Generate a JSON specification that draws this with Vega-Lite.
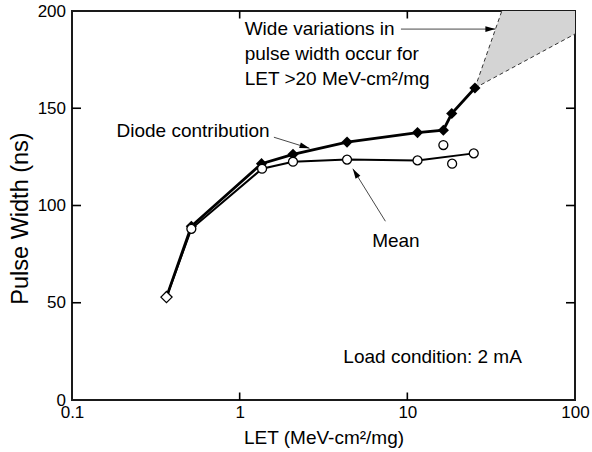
{
  "$schema": "https://vega.github.io/schema/vega-lite/v6.json",
  "width": 503,
  "height": 389,
  "autosize": "none",
  "padding": {"left": 72, "top": 11, "right": 17, "bottom": 52},
  "background": "white",
  "config": {
    "view": {"stroke": "#1a1a1a", "strokeWidth": 2},
    "font": "Liberation Sans",
    "axis": {
      "domain": false,
      "grid": false,
      "ticks": false,
      "tickSize": 0,
      "labelColor": "#000",
      "titleColor": "#000",
      "labelFont": "Liberation Sans",
      "titleFont": "Liberation Sans",
      "labelFontSize": 17,
      "titleFontWeight": "normal",
      "labelFlush": false
    },
    "text": {"font": "Liberation Sans", "fontSize": 19, "color": "#000"}
  },
  "datasets": {
    "region": [
      {"LET": 25.3, "lo": 160.4, "hi": 160.4},
      {"LET": 36.6, "lo": 168.0, "hi": 200},
      {"LET": 100, "lo": 188.2, "hi": 200}
    ],
    "edges": [
      {"edge": "upper", "LET": 25.3, "pw": 160.4},
      {"edge": "upper", "LET": 36.6, "pw": 200},
      {"edge": "lower", "LET": 25.3, "pw": 160.4},
      {"edge": "lower", "LET": 100, "pw": 188.2}
    ],
    "bottomTicks": [{"LET": 1, "pw": 0}, {"LET": 10, "pw": 0}],
    "topTicks": [{"LET": 1, "pw": 200}, {"LET": 10, "pw": 200}],
    "leftTicks": [{"LET": 0.1, "pw": 50}, {"LET": 0.1, "pw": 100}, {"LET": 0.1, "pw": 150}],
    "rightTicks": [{"LET": 100, "pw": 50}, {"LET": 100, "pw": 100}, {"LET": 100, "pw": 150}],
    "diode": [
      {"LET": 0.366, "pw": 52.9},
      {"LET": 0.515, "pw": 89.3},
      {"LET": 1.35, "pw": 121.5},
      {"LET": 2.08, "pw": 126.3},
      {"LET": 4.37, "pw": 132.6},
      {"LET": 11.5, "pw": 137.5},
      {"LET": 16.4, "pw": 138.7},
      {"LET": 18.4, "pw": 147.3},
      {"LET": 25.3, "pw": 160.4}
    ],
    "mean": [
      {"LET": 0.366, "pw": 52.9},
      {"LET": 0.515, "pw": 88.0},
      {"LET": 1.36, "pw": 118.9},
      {"LET": 2.08, "pw": 122.5},
      {"LET": 4.37, "pw": 123.6},
      {"LET": 11.5, "pw": 123.2},
      {"LET": 24.9, "pw": 126.8}
    ],
    "meanpts": [
      {"LET": 0.515, "pw": 88.0},
      {"LET": 1.36, "pw": 118.9},
      {"LET": 2.08, "pw": 122.5},
      {"LET": 4.37, "pw": 123.6},
      {"LET": 11.5, "pw": 123.2},
      {"LET": 24.9, "pw": 126.8},
      {"LET": 16.4, "pw": 131.1},
      {"LET": 18.5, "pw": 121.5}
    ],
    "arrows": [
      {"arrow": "wide", "LET": 9.16, "pw": 190.7},
      {"arrow": "wide", "LET": 33.5, "pw": 190.7},
      {"arrow": "diode", "LET": 1.6, "pw": 135.1},
      {"arrow": "diode", "LET": 2.61, "pw": 129.4},
      {"arrow": "mean", "LET": 7.4, "pw": 91.9},
      {"arrow": "mean", "LET": 4.73, "pw": 118.9}
    ],
    "heads": [
      {"arrow": "wide", "LET": 33.5, "pw": 190.7},
      {"arrow": "diode", "LET": 2.61, "pw": 129.4},
      {"arrow": "mean", "LET": 4.73, "pw": 118.9}
    ],
    "notesLeft": [
      {"LET": 1.071, "pw": 190.7, "label": "Wide variations in"},
      {"LET": 1.071, "pw": 177.8, "label": "pulse width occur for"},
      {"LET": 1.071, "pw": 164.9, "label": "LET >20 MeV-cm²/mg"},
      {"LET": 0.1843, "pw": 138.3, "label": "Diode contribution"}
    ],
    "notesCenter": [
      {"LET": 8.55, "pw": 81.6, "label": "Mean"},
      {"LET": 14.15, "pw": 22.0, "label": "Load condition: 2 mA"}
    ]
  },
  "layer": [
    {
      "data": {"name": "region"},
      "mark": {"type": "area", "color": "#d4d4d4", "opacity": 1},
      "encoding": {
        "x": {
          "field": "LET", "type": "quantitative",
          "scale": {"type": "log", "domain": [0.1, 100]},
          "axis": {
            "orient": "bottom", "values": [0.1, 1, 10, 100], "format": "~g",
            "labelPadding": 4.5,
            "title": "LET (MeV-cm²/mg)", "titleFontSize": 19,
            "titleBaseline": "alphabetic", "titleY": 43
          }
        },
        "y": {
          "field": "lo", "type": "quantitative",
          "scale": {"domain": [0, 200], "nice": false},
          "axis": {
            "orient": "left", "values": [0, 50, 100, 150, 200],
            "labelPadding": 6.5,
            "title": "Pulse Width (ns)", "titleFontSize": 23.5,
            "titleAngle": -90, "titleBaseline": "alphabetic",
            "titleX": -45, "titleY": 207
          }
        },
        "y2": {"field": "hi"}
      }
    },
    {
      "data": {"name": "edges"},
      "mark": {"type": "line", "color": "#333", "strokeWidth": 1, "strokeDash": [4, 3]},
      "encoding": {
        "x": {"field": "LET", "type": "quantitative", "scale": {"type": "log", "domain": [0.1, 100]}},
        "y": {"field": "pw", "type": "quantitative", "scale": {"domain": [0, 200], "nice": false}},
        "detail": {"field": "edge"}
      }
    },
    {
      "data": {"name": "bottomTicks"},
      "mark": {"type": "point", "shape": "M0,-1L0,0", "filled": false, "stroke": "#000", "strokeWidth": 1.6, "size": 225, "opacity": 1},
      "encoding": {
        "x": {"field": "LET", "type": "quantitative"},
        "y": {"field": "pw", "type": "quantitative"}
      }
    },
    {
      "data": {"name": "topTicks"},
      "mark": {"type": "point", "shape": "M0,0L0,1", "filled": false, "stroke": "#000", "strokeWidth": 1.6, "size": 225, "opacity": 1},
      "encoding": {
        "x": {"field": "LET", "type": "quantitative"},
        "y": {"field": "pw", "type": "quantitative"}
      }
    },
    {
      "data": {"name": "leftTicks"},
      "mark": {"type": "point", "shape": "M0,0L1,0", "filled": false, "stroke": "#000", "strokeWidth": 1.6, "size": 324, "opacity": 1},
      "encoding": {
        "x": {"field": "LET", "type": "quantitative"},
        "y": {"field": "pw", "type": "quantitative"}
      }
    },
    {
      "data": {"name": "rightTicks"},
      "mark": {"type": "point", "shape": "M0,0L-1,0", "filled": false, "stroke": "#000", "strokeWidth": 1.6, "size": 324, "opacity": 1},
      "encoding": {
        "x": {"field": "LET", "type": "quantitative"},
        "y": {"field": "pw", "type": "quantitative"}
      }
    },
    {
      "data": {"name": "arrows"},
      "mark": {"type": "line", "color": "#333", "strokeWidth": 0.9},
      "encoding": {
        "x": {"field": "LET", "type": "quantitative"},
        "y": {"field": "pw", "type": "quantitative"},
        "detail": {"field": "arrow"}
      }
    },
    {
      "data": {"name": "mean"},
      "mark": {"type": "line", "color": "#000", "strokeWidth": 2},
      "encoding": {
        "x": {"field": "LET", "type": "quantitative"},
        "y": {"field": "pw", "type": "quantitative"}
      }
    },
    {
      "data": {"name": "diode"},
      "mark": {"type": "line", "color": "#000", "strokeWidth": 2.8},
      "encoding": {
        "x": {"field": "LET", "type": "quantitative"},
        "y": {"field": "pw", "type": "quantitative"}
      }
    },
    {
      "data": {"name": "diode"},
      "transform": [{"filter": "datum.LET > 0.4"}],
      "mark": {"type": "point", "shape": "diamond", "filled": true, "color": "#000", "size": 125, "opacity": 1},
      "encoding": {
        "x": {"field": "LET", "type": "quantitative"},
        "y": {"field": "pw", "type": "quantitative"}
      }
    },
    {
      "data": {"name": "meanpts"},
      "mark": {"type": "point", "shape": "circle", "filled": true, "fill": "white", "stroke": "#000", "strokeWidth": 1.3, "size": 80, "opacity": 1},
      "encoding": {
        "x": {"field": "LET", "type": "quantitative"},
        "y": {"field": "pw", "type": "quantitative"}
      }
    },
    {
      "data": {"name": "diode"},
      "transform": [{"filter": "datum.LET < 0.4"}],
      "mark": {"type": "point", "shape": "diamond", "filled": true, "fill": "white", "stroke": "#000", "strokeWidth": 1.3, "size": 125, "opacity": 1},
      "encoding": {
        "x": {"field": "LET", "type": "quantitative"},
        "y": {"field": "pw", "type": "quantitative"}
      }
    },
    {
      "data": {"name": "heads"},
      "transform": [{"filter": "datum.arrow === 'wide'"}],
      "mark": {"type": "point", "shape": "M0,0L-1,-0.28L-1,0.28Z", "filled": true, "color": "#000", "size": 400, "opacity": 1, "angle": 0},
      "encoding": {
        "x": {"field": "LET", "type": "quantitative"},
        "y": {"field": "pw", "type": "quantitative"}
      }
    },
    {
      "data": {"name": "heads"},
      "transform": [{"filter": "datum.arrow === 'diode'"}],
      "mark": {"type": "point", "shape": "M0,0L-1,-0.28L-1,0.28Z", "filled": true, "color": "#000", "size": 400, "opacity": 1, "angle": 18},
      "encoding": {
        "x": {"field": "LET", "type": "quantitative"},
        "y": {"field": "pw", "type": "quantitative"}
      }
    },
    {
      "data": {"name": "heads"},
      "transform": [{"filter": "datum.arrow === 'mean'"}],
      "mark": {"type": "point", "shape": "M0,0L-1,-0.28L-1,0.28Z", "filled": true, "color": "#000", "size": 400, "opacity": 1, "angle": 239},
      "encoding": {
        "x": {"field": "LET", "type": "quantitative"},
        "y": {"field": "pw", "type": "quantitative"}
      }
    },
    {
      "data": {"name": "notesLeft"},
      "mark": {"type": "text", "align": "left", "baseline": "middle", "fontSize": 19, "color": "#000"},
      "encoding": {
        "x": {"field": "LET", "type": "quantitative"},
        "y": {"field": "pw", "type": "quantitative"},
        "text": {"field": "label", "type": "nominal"}
      }
    },
    {
      "data": {"name": "notesCenter"},
      "mark": {"type": "text", "align": "center", "baseline": "middle", "fontSize": 19, "color": "#000"},
      "encoding": {
        "x": {"field": "LET", "type": "quantitative"},
        "y": {"field": "pw", "type": "quantitative"},
        "text": {"field": "label", "type": "nominal"}
      }
    }
  ]
}
